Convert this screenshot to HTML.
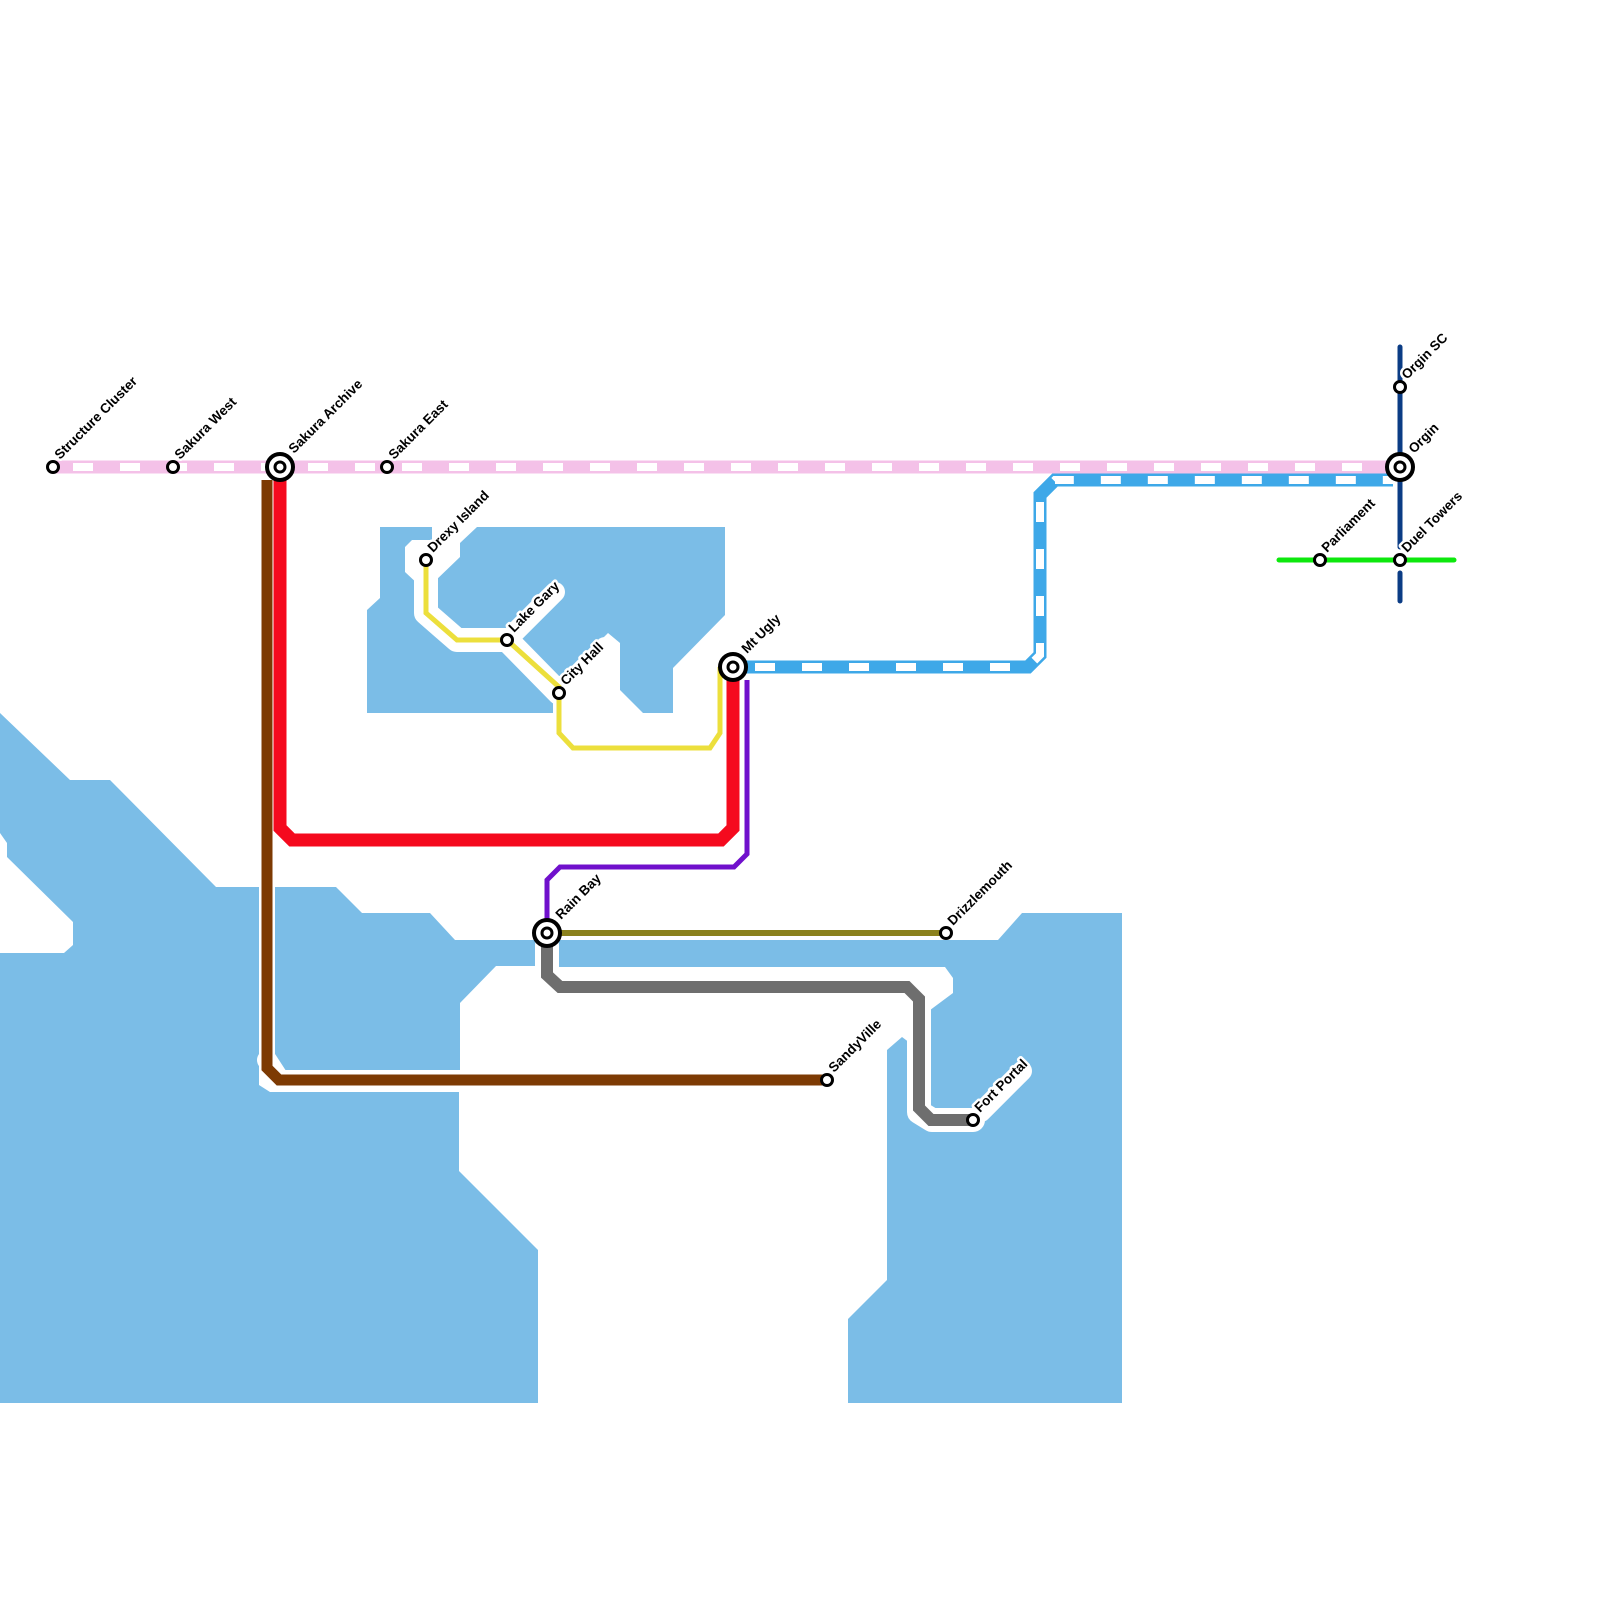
<!DOCTYPE html>
<html><head><meta charset="utf-8"><style>
html,body{margin:0;padding:0;background:#fff;}
svg{display:block;}
text{font-family:"Liberation Sans",sans-serif;font-weight:bold;font-size:13.5px;fill:#000;stroke:#fff;stroke-width:5px;paint-order:stroke;stroke-linejoin:round;}
</style></head><body>
<svg width="1600" height="1600" viewBox="0 0 1600 1600" xmlns="http://www.w3.org/2000/svg">
<g fill="#7bbde7" stroke="none">
<polygon points="0,713 70,780 110,780 216,887 259,887 259,1085 270,1092 459,1092 459,1171 538,1250 538,1403 0,1403 0,953 64,953 73,945 73,922 7,857 7,843 0,833"/>
<polygon points="275,887 336,887 362,913 430,913 455,940 539,940 539,966 496,966 460,1003 460,1070 275,1070"/>
<polygon points="556,940 998,940 1022,913 1122,913 1122,1403 848,1403 848,1319 887,1280 887,1050 902,1037 910,1043 910,1025 953,993 953,978 945,967 556,967"/>
<polygon points="380,527 432,527 432,540 412,540 405,547 405,572 420,586 433,583 460,557 460,543 477,527 725,527 725,615 673,668 673,713 643,713 620,690 620,643 608,633 565,676 553,676 553,713 367,713 367,610 380,598"/>
</g>
<g fill="none" stroke="#fff" stroke-linejoin="round" stroke-linecap="round">
<polyline points="426,560 426,613 457,640 507,640 559,693" stroke-width="24"/>
<polyline points="547,945 547,975 560,987 907,987 919,999 919,1112 932,1120 973,1120" stroke-width="24"/>
<polyline points="267,1060 280,1080 827,1080" stroke-width="20"/>
</g>
<g stroke="#fff" stroke-linecap="round" stroke-width="20">
<line x1="434" y1="552" x2="490" y2="496"/>
<line x1="515" y1="632" x2="555" y2="592"/>
<line x1="567" y1="685" x2="605" y2="647"/>
<line x1="981" y1="1112" x2="1022" y2="1071"/>
</g>
<line x1="53" y1="467" x2="1400" y2="467" stroke="#f4c1e8" stroke-width="13"/>
<line x1="73" y1="467" x2="1380" y2="467" stroke="#fff" stroke-width="8" stroke-dasharray="20 27"/>
<polyline points="733,667 1028,667 1040,655 1040,495 1055,480 1393,480" fill="none" stroke="#3ea8e8" stroke-width="13" stroke-linejoin="miter"/>
<polyline points="755,667 1028,667 1040,655 1040,495 1055,480 1393,480" fill="none" stroke="#fff" stroke-width="8" stroke-dasharray="20 27"/>
<polyline points="426,560 426,613 457,640 507,640 559,687 559,733 573,748 710,748 720,733 720,667" fill="none" stroke="#ecdf3c" stroke-width="5"/>
<polyline points="280,472 280,828 292,840 721,840 733,828 733,667" fill="none" stroke="#f50a1e" stroke-width="13" stroke-linejoin="miter"/>
<polyline points="267,480 267,1068 279,1080 827,1080" fill="none" stroke="#7d3a03" stroke-width="11"/>
<polyline points="747,680 747,854 734,867 560,867 547,880 547,933" fill="none" stroke="#7010cc" stroke-width="5"/>
<line x1="547" y1="933" x2="946" y2="933" stroke="#8b811d" stroke-width="6"/>
<polyline points="547,933 547,975 560,987 907,987 919,999 919,1108 931,1120 973,1120" fill="none" stroke="#6e6e6e" stroke-width="12"/>
<g stroke="#0b3c85" stroke-width="5" stroke-linecap="round">
<line x1="1400" y1="347" x2="1400" y2="547"/>
<line x1="1400" y1="573" x2="1400" y2="601"/>
</g>
<line x1="1279" y1="560" x2="1454" y2="560" stroke="#0de80d" stroke-width="5" stroke-linecap="round"/>
<g fill="#fff" stroke="#000" stroke-width="3">
<circle cx="53" cy="467" r="5.5"/>
<circle cx="173" cy="467" r="5.5"/>
<circle cx="387" cy="467" r="5.5"/>
<circle cx="426" cy="560" r="5.5"/>
<circle cx="507" cy="640" r="5.5"/>
<circle cx="559" cy="693" r="5.5"/>
<circle cx="946" cy="933" r="5.5"/>
<circle cx="827" cy="1080" r="5.5"/>
<circle cx="973" cy="1120" r="5.5"/>
<circle cx="1400" cy="387" r="5.5"/>
<circle cx="1320" cy="560" r="5.5"/>
<circle cx="1400" cy="560" r="5.5"/>
</g>
<g fill="#fff" stroke="#000">
<circle cx="280" cy="467" r="13" stroke-width="4"/>
<circle cx="280" cy="467" r="5" stroke-width="3"/>
<circle cx="733" cy="667" r="13" stroke-width="4"/>
<circle cx="733" cy="667" r="5" stroke-width="3"/>
<circle cx="547" cy="933" r="13" stroke-width="4"/>
<circle cx="547" cy="933" r="5" stroke-width="3"/>
<circle cx="1400" cy="467" r="13" stroke-width="4"/>
<circle cx="1400" cy="467" r="5" stroke-width="3"/>
</g>
<g>
<text transform="translate(60,460) rotate(-45)">Structure Cluster</text>
<text transform="translate(180,460) rotate(-45)">Sakura West</text>
<text transform="translate(294,454) rotate(-45)">Sakura Archive</text>
<text transform="translate(394,460) rotate(-45)">Sakura East</text>
<text transform="translate(433,553) rotate(-45)">Drexy Island</text>
<text transform="translate(514,633) rotate(-45)">Lake Gary</text>
<text transform="translate(566,686) rotate(-45)">City Hall</text>
<text transform="translate(747,654) rotate(-45)">Mt Ugly</text>
<text transform="translate(561,920) rotate(-45)">Rain Bay</text>
<text transform="translate(953,926) rotate(-45)">Drizzlemouth</text>
<text transform="translate(834,1073) rotate(-45)">SandyVille</text>
<text transform="translate(980,1113) rotate(-45)">Fort Portal</text>
<text transform="translate(1407,380) rotate(-45)">Orgin SC</text>
<text transform="translate(1414,454) rotate(-45)">Orgin</text>
<text transform="translate(1327,553) rotate(-45)">Parliament</text>
<text transform="translate(1407,553) rotate(-45)">Duel Towers</text>
</g>
</svg>
</body></html>
